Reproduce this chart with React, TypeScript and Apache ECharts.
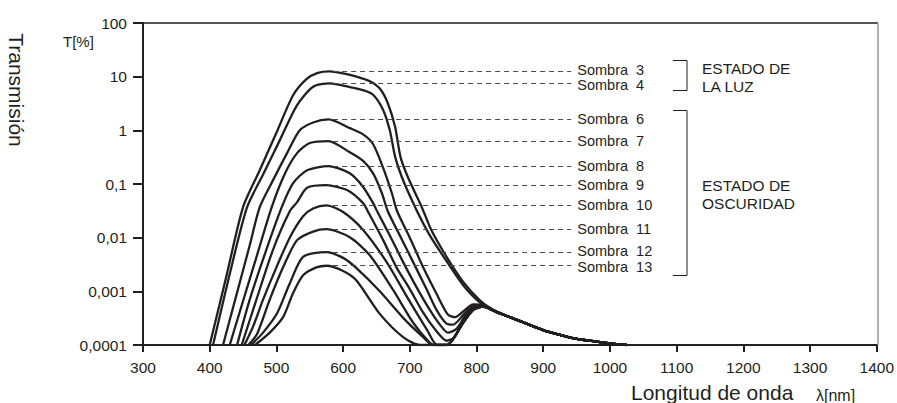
import React, { useEffect, useRef } from 'react';
import * as echarts from 'echarts';

const FONT = '"Liberation Sans", Arial, Helvetica, sans-serif';
const INK = '#231f20';

// axis ticks
const xMin = 300;
const xMax = 1400;
const xStep = 100;
const yTickLabels = ['0,0001', '0,001', '0,01', '0,1', '1', '10', '100'];

// labels + dashed-marker levels (peak transmission, %)
const sombraNames = ['Sombra  3', 'Sombra  4', 'Sombra  6', 'Sombra  7', 'Sombra  8', 'Sombra  9', 'Sombra  10', 'Sombra  11', 'Sombra  12', 'Sombra  13'];
const sombraLevels = [12.6, 7.5, 1.6, 0.63, 0.216, 0.095, 0.04, 0.0144, 0.0054, 0.003];
const labelShift = [-1.5, 1.5, 0, 0, 0, 0, 0, 0, -1.5, 1.5];
const markerFrom = 585;
const markerTo = 942;

// common near-infrared tail
const tail: [number, number][] = [
  [850, 0.00033], [875, 0.00025], [900, 0.00019], [925, 0.000155], [950, 0.00013],
  [975, 0.000118], [1000, 0.000107], [1025, 0.0001],
];

const sombra3: [number, number][] = [
  [400, 0.0001], [425, 0.0019], [450, 0.037], [475, 0.18], [500, 0.9], [525, 4.5], [545, 9], [562, 11.8],
  [580, 12.6], [600, 11.5], [620, 10], [640, 8.2], [655, 6.0], [667, 3.2], [678, 1.15], [686, 0.32],
  [697, 0.135], [718, 0.037], [732, 0.014], [756, 0.0042], [780, 0.0015], [805, 0.00068], [825, 0.00045],
];
const sombra4: [number, number][] = [
  [405, 0.0001], [430, 0.0021], [456, 0.037], [480, 0.15], [505, 0.65], [531, 2.95], [555, 6.5],
  [580, 7.5], [610, 6.4], [632, 5.5], [645, 4.6], [660, 2.4], [670, 1.0], [678, 0.32], [688, 0.135],
  [708, 0.037], [730, 0.011], [756, 0.0035], [780, 0.0013], [805, 0.00062], [825, 0.00045],
];
const sombra6: [number, number][] = [
  [420, 0.0001], [440, 0.00085], [460, 0.0072], [475, 0.037], [495, 0.118], [516, 0.376], [535, 1.0],
  [555, 1.4], [578, 1.6], [610, 1.1], [630, 0.84], [645, 0.55], [660, 0.2], [673, 0.068], [681, 0.031],
  [700, 0.01], [720, 0.0028], [740, 0.0009], [757, 0.00037], [768, 0.00033], [780, 0.00042],
  [795, 0.00057], [810, 0.00056], [825, 0.00045],
];
const sombra7: [number, number][] = [
  [430, 0.0001], [450, 0.00066], [470, 0.0043], [493, 0.037], [513, 0.158], [531, 0.376], [550, 0.58],
  [578, 0.63], [610, 0.39], [630, 0.27], [645, 0.158], [658, 0.068], [667, 0.031], [685, 0.011],
  [705, 0.0035], [725, 0.0011], [740, 0.00045], [755, 0.00025], [765, 0.00024], [780, 0.00036],
  [795, 0.00053], [810, 0.00055], [825, 0.00045],
];
const sombra8: [number, number][] = [
  [441, 0.0001], [460, 0.0007], [485, 0.006], [508, 0.037], [525, 0.104], [546, 0.18], [578, 0.216],
  [610, 0.158], [630, 0.088], [645, 0.044], [651, 0.031], [670, 0.011], [690, 0.0035], [710, 0.0012],
  [730, 0.00045], [745, 0.00024], [757, 0.00017], [770, 0.0002], [785, 0.00038], [800, 0.00052],
  [815, 0.0005], [830, 0.00041],
];
const sombra9: [number, number][] = [
  [448, 0.0001], [470, 0.0007], [495, 0.006], [520, 0.031], [531, 0.046], [546, 0.085], [575, 0.095],
  [606, 0.077], [630, 0.044], [637, 0.031], [660, 0.009], [680, 0.0028], [700, 0.0011], [720, 0.0004],
  [740, 0.00018], [755, 0.00012], [767, 0.00014], [780, 0.00028], [795, 0.00047], [810, 0.00052],
  [830, 0.00041],
];
const sombra10: [number, number][] = [
  [452, 0.0001], [465, 0.00022], [480, 0.0007], [500, 0.0028], [520, 0.01], [540, 0.025], [555, 0.035],
  [575, 0.04], [600, 0.03], [630, 0.0139], [666, 0.0034], [696, 0.00078], [726, 0.00019], [741, 0.0001],
  [755, 0.0001], [780, 0.00026], [795, 0.00045], [810, 0.00052], [830, 0.00041],
];
const sombra11: [number, number][] = [
  [458, 0.0001], [471, 0.00016], [490, 0.0007], [510, 0.0028], [531, 0.009], [555, 0.013], [575, 0.0144],
  [610, 0.0102], [640, 0.0047], [675, 0.00106], [705, 0.00026], [730, 0.00011], [738, 0.0001],
  [755, 0.0001], [780, 0.00026], [795, 0.00045], [810, 0.00052], [830, 0.00041],
];
const sombra12: [number, number][] = [
  [462, 0.0001], [480, 0.00017], [501, 0.00039], [520, 0.0014], [540, 0.0044], [575, 0.0054],
  [600, 0.0042], [620, 0.0027], [655, 0.001], [690, 0.00032], [720, 0.00014], [735, 0.0001],
  [755, 0.0001], [780, 0.00026], [795, 0.00045], [810, 0.00052], [830, 0.00041],
];
const sombra13: [number, number][] = [
  [468, 0.0001], [490, 0.00017], [510, 0.00033], [525, 0.00093], [540, 0.002], [560, 0.0028],
  [575, 0.003], [600, 0.0024], [620, 0.0016], [655, 0.00038], [690, 0.00014], [715, 0.0001],
  [755, 0.0001], [780, 0.00026], [795, 0.00045], [810, 0.00052], [830, 0.00041],
];

const curves = [sombra3, sombra4, sombra6, sombra7, sombra8, sombra9, sombra10, sombra11, sombra12, sombra13];

export default function App() {
  const ref = useRef<HTMLDivElement>(null);
  useEffect(() => {
    const chart = echarts.init(ref.current!, null, { renderer: 'svg' });
    const series = curves.map((pts, i) => ({
      type: 'line',
      name: sombraNames[i],
      data: [...pts, ...tail],
      smooth: 0.25,
      symbol: 'none',
      showSymbol: false,
      clip: true,
      z: 3,
      lineStyle: { color: INK, width: 2.3 },
      markLine: {
        silent: true,
        symbol: ['none', 'none'],
        lineStyle: { type: [5, 4], color: '#4a4a4a', width: 1 },
        label: {
          show: true,
          position: 'end',
          distance: 6,
          offset: [0, labelShift[i]],
          formatter: sombraNames[i],
          color: INK,
          fontSize: 14.5,
          lineHeight: 11,
          fontFamily: FONT,
        },
        data: [[{ coord: [markerFrom, sombraLevels[i]] }, { coord: [markerTo, sombraLevels[i]] }]],
      },
    }));
    const txt = (text: string, x: number, y: number, size: number, extra: any = {}) => ({
      type: 'text',
      x,
      y,
      ...extra,
      style: {
        text,
        fill: INK,
        font: `${size}px ${FONT}`,
        align: 'left',
        verticalAlign: 'middle',
        ...(extra.style || {}),
      },
    });
    chart.setOption({
      animation: false,
      backgroundColor: '#ffffff',
      grid: { left: 143, right: 19, top: 23, bottom: 58, containLabel: false },
      xAxis: {
        type: 'value',
        min: xMin,
        max: xMax,
        interval: xStep,
        axisLine: { lineStyle: { color: INK, width: 2 } },
        axisTick: { length: 7, lineStyle: { color: INK, width: 2 } },
        axisLabel: { fontSize: 15.5, margin: 14, color: INK, fontFamily: FONT, formatter: (v: number) => String(v) },
        splitLine: { show: false },
      },
      yAxis: {
        type: 'log',
        logBase: 10,
        min: 0.0001,
        max: 100,
        splitNumber: 6,
        axisLine: { show: true, lineStyle: { color: INK, width: 2 } },
        axisTick: { show: true, length: 10, lineStyle: { color: INK, width: 2 } },
        minorTick: { show: false },
        axisLabel: {
          fontSize: 15.5,
          margin: 16,
          color: INK,
          fontFamily: FONT,
          formatter: (v: number) => yTickLabels[Math.round(Math.log10(v)) + 4] ?? '',
        },
        splitLine: { show: false },
      },
      graphic: [
        { type: 'line', shape: { x1: 143, y1: 23, x2: 878, y2: 23 }, style: { stroke: INK, lineWidth: 1.5 }, z: 1 },
        { type: 'line', shape: { x1: 878, y1: 23, x2: 878, y2: 345 }, style: { stroke: '#9a9a9a', lineWidth: 1.5 }, z: 1 },
        { type: 'polyline', shape: { points: [[673, 60.5], [687, 60.5], [687, 90.5], [673, 90.5]] }, style: { stroke: INK, lineWidth: 1, fill: null } },
        { type: 'polyline', shape: { points: [[673, 110.5], [687, 110.5], [687, 275.5], [673, 275.5]] }, style: { stroke: INK, lineWidth: 1, fill: null } },
        txt('ESTADO DE', 702, 68, 15.5),
        txt('LA LUZ', 702, 86, 15.5),
        txt('ESTADO DE', 702, 185, 15.5),
        txt('OSCURIDAD', 702, 203, 15.5),
        txt('T[%]', 63, 41, 15),
        txt('Transmisión', 16, 90, 21, { rotation: -Math.PI / 2, style: { align: 'center' } }),
        txt('Longitud de onda', 631, 392, 21),
        txt('λ[nm]', 816, 395, 16),
      ],
      series,
    });
    return () => chart.dispose();
  }, []);
  return <div ref={ref} style={{ position: 'fixed', left: 0, top: 0, width: 897, height: 403 }} />;
}
